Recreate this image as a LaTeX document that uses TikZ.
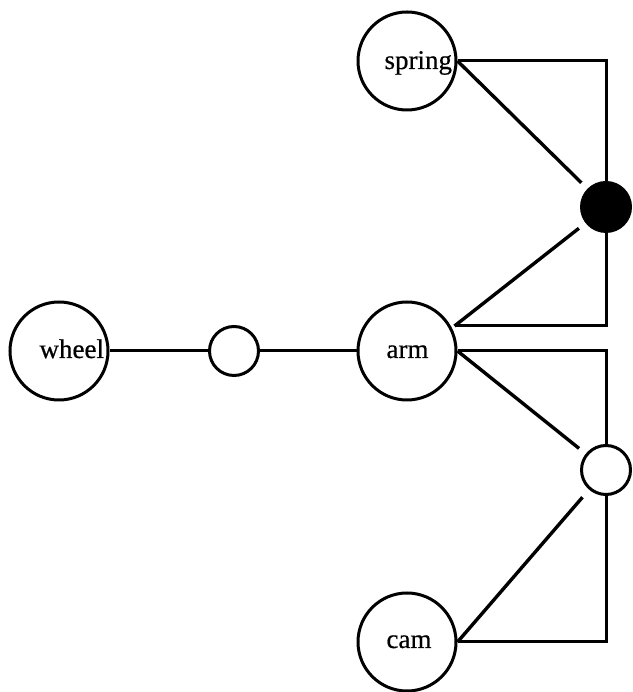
\documentclass[tikz,border=0pt]{standalone}
\usepackage{fontspec}
\setmainfont{Liberation Serif}[FakeBold=0.6]
\begin{document}
\begin{tikzpicture}[x=1pt,y=1pt,
    every path/.style={line width=3pt},
    part/.style={circle,draw,line width=3pt,minimum size=98pt,inner sep=0pt},
    joint/.style={circle,draw,line width=3pt,minimum size=49pt,inner sep=0pt},
    solidjoint/.style={joint,fill=black},
    partname/.style={anchor=base west,inner sep=0pt,font=\fontsize{27}{30}\selectfont},
    link/.style={line width=3pt},
    tie/.style={line width=3.4pt,shorten >=8.5pt}]
  \useasboundingbox (0,0) rectangle (632,692);

  % parts
  \node[part] (spring) at (407,631) {};
  \node[part] (wheel)  at (59,341)  {};
  \node[part] (arm)    at (407,341) {};
  \node[part] (cam)    at (407,50)  {};
  \node[partname] at ([shift={(-24pt,-8pt)}]spring.center) {spring};
  \node[partname] at ([shift={(-21pt,-7pt)}]wheel.center)  {wheel};
  \node[partname] at ([shift={(-22pt,-7pt)}]arm.center)    {arm};
  \node[partname] at ([shift={(-22pt,-6pt)}]cam.center)    {cam};

  % joints
  \node[joint]      (shaft) at (234,341) {};
  \node[solidjoint] (pivot) at (606,485) {};
  \node[joint]      (contact) at (606,222) {};

  % wheel -- shaft -- arm
  \draw[link] (wheel.east) -- (shaft.west);
  \draw[link] (shaft.east) -- (arm.west);

  % spring and arm meet at the solid joint
  \coordinate (armtop) at ([shift={(-3,25)}]arm.east);
  \draw[link] (spring.east) -| (pivot.north);
  \draw[tie]  (spring.east) -- (pivot);
  \draw[link] (armtop) -| (pivot.south);
  \draw[tie]  (armtop) -- (pivot);

  % arm and cam meet at the open joint
  \draw[link] (arm.east) -| (contact.north);
  \draw[tie]  (arm.east) -- (contact);
  \draw[link] (cam.east) -| (contact.south);
  \draw[tie,shorten >=10pt] (cam.east) -- (contact);
\end{tikzpicture}
\end{document}
